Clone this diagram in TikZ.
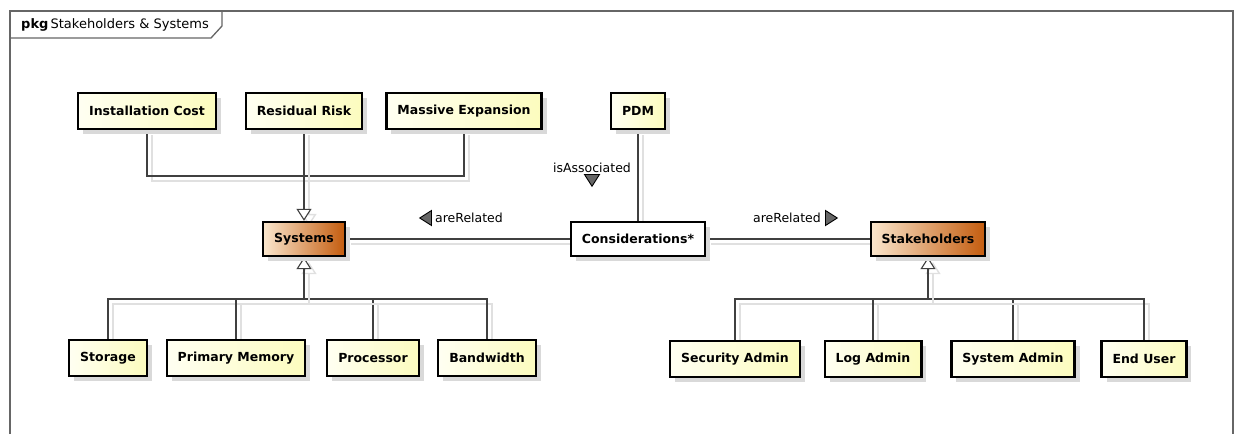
\documentclass[tikz,border=0pt]{standalone}
\usepackage{fontspec}
\setmainfont{DejaVu Sans}
\usepackage{xcolor}
\usepackage{tikz}
\usetikzlibrary{arrows.meta,shadows,shapes.geometric,positioning,backgrounds}
\definecolor{palecream}{RGB}{255,255,242}
\definecolor{paleyellow}{RGB}{252,252,190}
\definecolor{lighttan}{RGB}{250,230,205}
\definecolor{burnt}{RGB}{196,92,14}
\tikzset{box/.style={draw,line width=2.3pt,minimum height=36pt,inner xsep=11pt,
        font=\fontsize{12.5}{14}\selectfont\bfseries,
        drop shadow={shadow xshift=5pt,shadow yshift=-5pt,fill=black!15,opacity=1}},
    class/.style={box,left color=palecream,right color=paleyellow},
    general/.style={box,minimum height=34pt,left color=lighttan,right color=burnt},
    plainbox/.style={box,minimum height=34pt,fill=white},
    link/.style={draw=black!75,line width=1.1pt,
        preaction={draw=black!12,line width=1.4pt,transform canvas={shift={(5pt,-5pt)}}}},
    isa/.style={link,-{Triangle[open,length=12pt,width=15pt,fill=white]}},
    rel/.style={font=\fontsize{12.5}{14}\selectfont,inner sep=0pt},
    reltri/.style={isosceles triangle,isosceles triangle apex angle=65,draw=black,
        fill=black!60,line width=0.9pt,inner sep=3.3pt}}

\begin{document}
\begin{tikzpicture}[x=1pt,y=-1pt,
        frame/.style={draw=black!60,line width=1.3pt}]
    \useasboundingbox (0,0) rectangle (1235,434);
    \draw[frame] (10,434) |- (1233,11) -- (1233,434);
    \draw[frame] (10,38) -- (211,38) -- (222,26) -- (222,11);
    \node[anchor=west,inner sep=0pt,font=\fontsize{13}{15}\selectfont] (title) at (21,25)
        {\textbf{pkg}\,Stakeholders \& Systems};

    \node[class] (ic) at (147,111) {Installation Cost};
    \node[class] (rr) at (304,111) {Residual Risk};
    \node[class] (me) at (464,111) {Massive Expansion};
    \node[class] (pdm) at (638,111) {PDM};

    \node[general] (sys) at (304,239) {Systems};
    \node[plainbox] (con) at (638,239) {Considerations*};
    \node[general] (sh) at (928,239) {Stakeholders};

    \node[class] (st) at (108,358) {Storage};
    \node[class] (pm) at (236,358) {Primary Memory};
    \node[class] (pr) at (373,358) {Processor};
    \node[class] (bw) at (487,358) {Bandwidth};

    \node[class] (sa) at (735,359) {Security Admin};
    \node[class] (la) at (873,359) {Log Admin};
    \node[class] (sy) at (1013,359) {System Admin};
    \node[class] (eu) at (1144,359) {End User};

    \coordinate (topbus) at (304,176);
    \coordinate (sysbus) at (304,299);
    \coordinate (shbus) at (928,299);

    \begin{scope}[on background layer]
    \draw[link] (ic) |- (topbus);
    \draw[link] (me) |- (topbus);
    \draw[isa] (rr) -- (sys);

    \draw[link] (st) |- (sysbus);
    \draw[link] (pm) |- (sysbus);
    \draw[link] (pr) |- (sysbus);
    \draw[link] (bw) |- (sysbus);
    \draw[isa] (sysbus) -- (sys);

    \draw[link] (sa) |- (shbus);
    \draw[link] (la) |- (shbus);
    \draw[link] (sy) |- (shbus);
    \draw[link] (eu) |- (shbus);
    \draw[isa] (shbus) -- (sh);

    \draw[link] (sys) -- (con);
    \draw[link] (con) -- (sh);
    \draw[link] (pdm) -- (con);
    \end{scope}

    \node[rel] (relL) at (469,218) {areRelated};
    \node[reltri,shape border rotate=180,left=3pt of relL] (triL) {};
    \node[rel] (relR) at (787,218) {areRelated};
    \node[reltri,right=4pt of relR] (triR) {};
    \node[rel] (assoc) at (592,168) {isAssociated};
    \node[reltri,shape border rotate=270,below=1pt of assoc] (triA) {};
\end{tikzpicture}
\end{document}
